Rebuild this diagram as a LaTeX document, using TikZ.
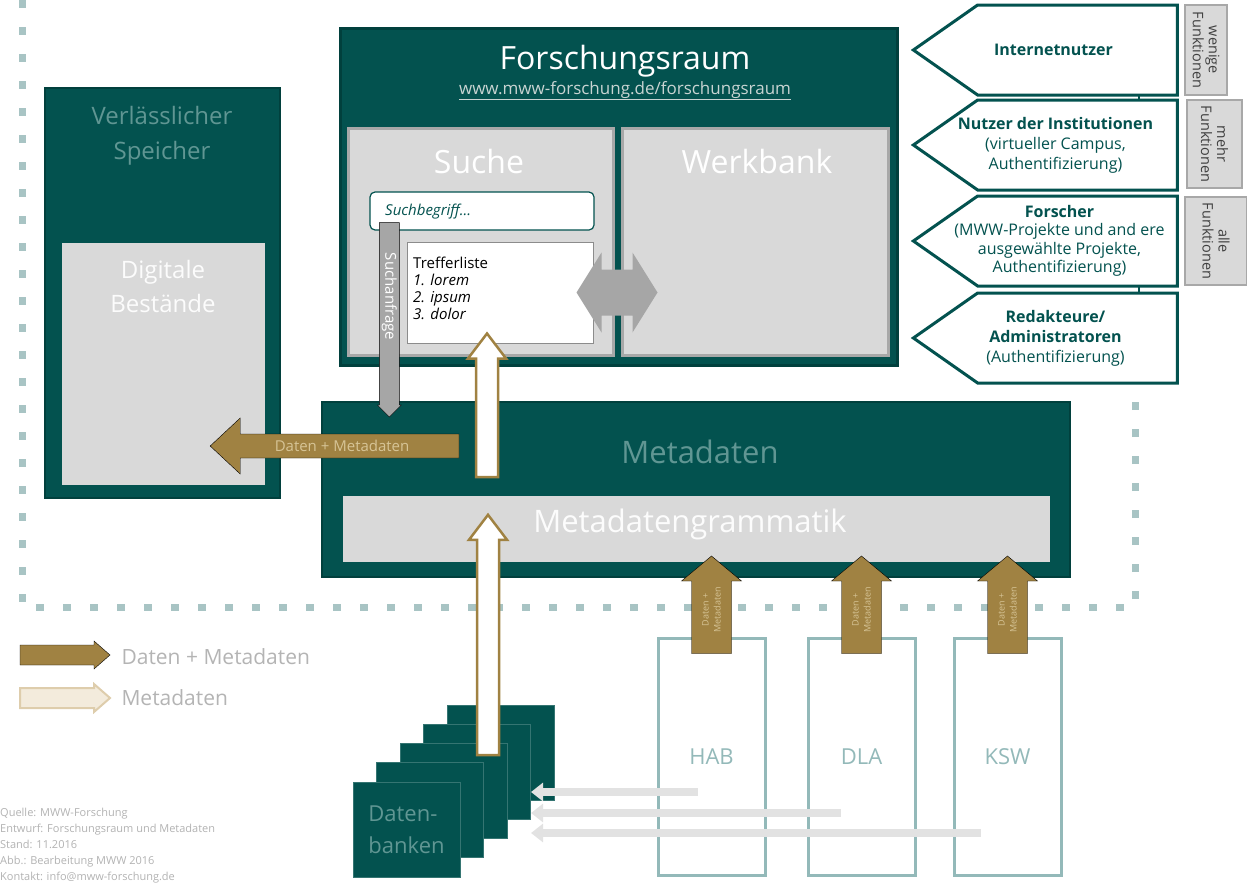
\documentclass[tikz,border=0pt]{standalone}
\usepackage{fontspec}
\setmainfont{Open Sans}
\usetikzlibrary{positioning,calc,arrows.meta,shapes.symbols}

\definecolor{mwwteal}{RGB}{3,82,79}
\definecolor{mwwtealdark}{RGB}{1,64,61}
\definecolor{mwwfaint}{RGB}{96,150,147}
\definecolor{mwwbrown}{RGB}{160,130,66}
\definecolor{mwwsand}{RGB}{243,235,220}
\definecolor{mwwsandline}{RGB}{222,205,172}
\definecolor{mwwsandtext}{RGB}{214,196,150}
\definecolor{panelgray}{RGB}{217,217,217}
\definecolor{panelline}{RGB}{168,168,168}
\definecolor{arrowgray}{RGB}{166,166,166}
\definecolor{archline}{RGB}{147,185,185}
\definecolor{dotline}{RGB}{168,196,196}
\definecolor{paleline}{RGB}{226,226,226}
\definecolor{urlgray}{RGB}{200,212,210}
\definecolor{legendgray}{RGB}{180,180,180}

% block arrows between two points
\tikzset{
  arrshaft/.store in=\arrshaft, arrshaft=10pt,
  arrhead/.store in=\arrhead, arrhead=20pt,
  arrtip/.store in=\arrtip, arrtip=20pt,
  blockarrow/.style={to path={
      ($(\tikztostart)!\arrshaft!90:(\tikztotarget)$)
   -- ($(\tikztotarget)!\arrtip!(\tikztostart)!\arrshaft!90:(\tikztotarget)$)
   -- ($(\tikztotarget)!\arrtip!(\tikztostart)!\arrhead!90:(\tikztotarget)$)
   -- (\tikztotarget)
   -- ($(\tikztotarget)!\arrtip!(\tikztostart)!\arrhead!-90:(\tikztotarget)$)
   -- ($(\tikztotarget)!\arrtip!(\tikztostart)!\arrshaft!-90:(\tikztotarget)$)
   -- ($(\tikztostart)!\arrshaft!-90:(\tikztotarget)$)
   -- cycle}},
}

\begin{document}
\begin{tikzpicture}[x=1pt, y=-1pt,
    tealbox/.style={draw=mwwtealdark, line width=2pt, fill=mwwteal, inner sep=0pt},
    panel/.style={draw=panelline, line width=3pt, fill=panelgray, inner sep=0pt},
    titlefont/.style={font=\fontsize{32}{36}\selectfont},
    faint/.style={text=mwwfaint},
    archive/.style={draw=archline, line width=3pt, fill=white, inner sep=0pt,
      minimum width=107pt, minimum height=237pt, text=archline,
      font=\fontsize{22}{26}\selectfont},
    dbsheet/.style={draw=mwwteal!80!white, line width=1pt, fill=mwwteal, inner sep=0pt,
      minimum width=107pt, minimum height=95pt},
    usersign/.style={signal, signal to=west, signal pointer angle=70, draw=mwwteal,
      line width=3pt, fill=white, minimum width=264pt, minimum height=90pt, inner sep=0pt},
    usertext/.style={align=center, text=mwwteal, font=\fontsize{16}{20}\selectfont},
    tag/.style={draw=panelline, line width=1.5pt, fill=panelgray, rotate=-90,
      inner sep=0pt, align=center, text=black!75, font=\fontsize{14.5}{16}\selectfont},
    brownarrow/.style={fill=mwwbrown, blockarrow},
    hollowarrow/.style={draw=mwwbrown, line width=2.5pt, fill=white, blockarrow},
    grayarrow/.style={fill=arrowgray, blockarrow},
    feed/.style={draw=paleline, line width=8pt, -{Triangle[width=18pt,length=12pt]}},
    dotframe/.style={draw=dotline, line width=7pt, dash pattern=on 8pt off 19pt}
  ]
\useasboundingbox (0,0) rectangle (1247,886);

% outer dotted frame
\coordinate (fa) at (22,0);
\coordinate (fb) at (22,607);
\coordinate (fc) at (1135,607);
\coordinate (fd) at (1135,395);
\draw[dotframe] (fa) -- (fb) -- (fc) -- (fd);

% storage
\node[tealbox, minimum width=235pt, minimum height=410pt] (speicher) at (162.5,293) {};
\node[faint, font=\fontsize{24}{35}\selectfont, align=center] (speichertitle) at (162,136) {Verlässlicher\\Speicher};
\node[fill=panelgray, inner sep=0pt, minimum width=203pt, minimum height=242pt] (best) at (163.5,364) {};
\node[text=white!92!panelgray, font=\fontsize{24}{34}\selectfont, align=center] (besttitle) at (163,286) {Digitale\\Bestände};

% Forschungsraum
\node[tealbox, line width=3pt, minimum width=557pt, minimum height=337pt] (raum) at (618.5,196.5) {};
\node[text=white, titlefont, anchor=base] (raumtitle) at (625,69) {Forschungsraum};
\node[text=urlgray, font=\fontsize{17}{20}\selectfont, anchor=base] (url) at (625,94) {\underline{www.mww-forschung.de/forschungsraum}};
\node[panel, minimum width=265pt, minimum height=227pt] (suche) at (480.5,241.5) {};
\node[panel, minimum width=266pt, minimum height=227pt] (werk) at (755,241.5) {};
\node[text=white, titlefont, anchor=base] (suchetitle) at (479,173) {Suche};
\node[text=white, titlefont, anchor=base] (werktitle) at (757,173) {Werkbank};
\node[draw=mwwteal, line width=1.2pt, fill=white, rounded corners=5pt,
      minimum width=224pt, minimum height=38pt] (sbox) at (482,211) {};
\node[text=mwwteal, anchor=base west, inner sep=0pt, font=\fontsize{15}{17}\itshape] (sboxtext) at (385,215) {Suchbegriff...};
\node[draw=black!45, line width=1pt, fill=white, minimum width=186pt, minimum height=101pt] (treffer) at (500,292.5) {};
\node[anchor=north west, align=left, inner sep=0pt, font=\fontsize{15}{17}\selectfont] (hits) at (413,257)
  {Trefferliste\\\textit{1. lorem}\\\textit{2. ipsum}\\\textit{3. dolor}};

% Metadaten
\node[tealbox, minimum width=748pt, minimum height=175pt] (meta) at (696,489.5) {};
\node[faint, font=\fontsize{31}{34}\selectfont] (metatitle) at (700,452) {Metadaten};
\node[fill=panelgray, inner sep=0pt, minimum width=707pt, minimum height=66pt] (gram) at (696.5,529) {};
\node[text=white!92!panelgray, font=\fontsize{31}{34}\selectfont] (gramtitle) at (690,524) {Metadatengrammatik};

% archives and databases
\node[archive] (hab) at (711.5,756.5) {HAB};
\node[archive] (dla) at (861.5,756.5) {DLA};
\node[archive] (ksw) at (1007.5,756.5) {KSW};
\coordinate (dbfront) at (406.5,829.5);
\foreach \i in {4,3,2,1}
  \node[dbsheet] (db\i) at ($(dbfront)+(23.5*\i,-19.25*\i)$) {};
\node[dbsheet, faint, align=left, font=\fontsize{22}{32}\selectfont] (db) at (dbfront) {Daten-\\banken};

% user groups
\node[usersign] (u1) at (1077.5,50) {};
\node[usersign] (u2) at (1077.5,145) {};
\node[usersign] (u3) at (1077.5,241) {};
\node[usersign] (u4) at (1077.5,338) {};
\node[usertext] (u1text) at ($(u1.center)+(-24,0)$) {\textbf{Internetnutzer}};
\node[usertext] (u2text) at ($(u2.center)+(-22,0)$) {\textbf{Nutzer der Institutionen}\\(virtueller Campus,\\Authentifizierung)};
\node[usertext, font=\fontsize{16}{18.5}\selectfont] (u3text) at ($(u3.center)+(-18,0)$) {\textbf{Forscher}\\(MWW-Projekte und and ere\\ausgewählte Projekte,\\Authentifizierung)};
\node[usertext] (u4text) at ($(u4.center)+(-22,0)$) {\textbf{Redakteure/}\\\textbf{Administratoren}\\(Authentifizierung)};
\draw[mwwteal, line width=2pt] ($(u1.east)+(-40,45)$) -- ($(u2.east)+(-40,-45)$);
\draw[mwwteal, line width=2pt] ($(u3.east)+(-40,44)$) -- ($(u4.east)+(-40,-45)$);
\node[tag, minimum width=90pt, minimum height=42pt] (t1) at (1206,50) {wenige\\Funktionen};
\node[tag, minimum width=88pt, minimum height=55pt] (t2) at (1214.5,144) {mehr\\Funktionen};
\node[tag, minimum width=88pt, minimum height=62pt] (t3) at (1216,241) {alle\\Funktionen};

% search request
\coordinate (qa) at ($(sbox.south west)+(20,-8)$);
\coordinate (qb) at ($(qa |- meta.north)+(0,16)$);
\draw[grayarrow, arrshaft=10pt, arrhead=12pt, arrtip=12pt] (qa) to (qb);
\node[rotate=-90, text=white, font=\fontsize{15}{17}\selectfont] (qtext) at ($(qa)!.38!(qb)$) {Suchanfrage};

% results <-> workbench
\coordinate (dmx) at ($(suche.east)!.5!(werk.west)$);
\coordinate (dm) at (dmx |- treffer.east);
\fill[arrowgray, arrshaft=23pt, arrhead=40pt, arrtip=25pt, blockarrow]
  (dm) to ($(dm)+(-41,0)$) (dm) to ($(dm)+(40,0)$);

% metadata to results
\coordinate (ra) at ($(meta.north west)+(166,76)$);
\coordinate (rb) at ($(treffer.south -| ra)+(0,-10)$);
\draw[hollowarrow, arrshaft=11pt, arrhead=19pt, arrtip=25pt] (ra) to (rb);

% data to storage
\coordinate (sa) at ($(meta.north west)+(138,45)$);
\coordinate (sb) at ($(sa -| best.east)+(-55,0)$);
\draw[brownarrow, arrshaft=12pt, arrhead=28pt, arrtip=30pt] (sa) to (sb);
\node[text=mwwsandtext, font=\fontsize{15}{17}\selectfont] (stext) at ($(sa)!.47!(sb)$) {Daten + Metadaten};

% databases to grammar
\coordinate (ga) at (488,755);
\coordinate (gb) at ($(gram.north -| ga)+(0,19)$);
\draw[hollowarrow, arrshaft=11pt, arrhead=19pt, arrtip=25pt] (ga) to (gb);

% archives to Metadaten
\foreach \a in {hab,dla,ksw}{
  \coordinate (\a-base) at ($(\a.north)+(0,17)$);
  \coordinate (\a-tip) at ($(\a.north |- meta.south)+(0,-22)$);
  \draw[brownarrow, arrshaft=20pt, arrhead=30pt, arrtip=25pt] (\a-base) to (\a-tip);
  \node[rotate=90, text=mwwsandtext, align=center, font=\fontsize{9}{12}\selectfont]
    at ($(\a-base)!.45!(\a-tip)$) {Daten +\\Metadaten};
}

% archives to databases
\coordinate (h1) at ($(hab.west)+(41,35.5)$);
\coordinate (h2) at ($(dla.west)+(34,56.5)$);
\coordinate (h3) at ($(ksw.west)+(28,76.5)$);
\draw[feed] (h1) -- (h1 -| db3.east);
\draw[feed] (h2) -- (h2 -| db3.east);
\draw[feed] (h3) -- (h3 -| db3.east);

% legend
\coordinate (la1) at (20,655);
\coordinate (lb1) at (110,655);
\coordinate (la2) at (20,698);
\coordinate (lb2) at (110,698);
\draw[brownarrow, arrshaft=10pt, arrhead=14pt, arrtip=16pt] (la1) to (lb1);
\draw[draw=mwwsandline, line width=2pt, fill=mwwsand, blockarrow, arrshaft=10pt, arrhead=14pt, arrtip=16pt] (la2) to (lb2);
\node[anchor=west, text=legendgray, font=\fontsize{21}{23}\selectfont] (l1) at (118,657) {Daten + Metadaten};
\node[anchor=west, text=legendgray, font=\fontsize{21}{23}\selectfont] (l2) at (118,698) {Metadaten};

% source notes
\node[anchor=north west, align=left, inner sep=0pt, text=black!30, font=\fontsize{11}{16}\selectfont] (notes) at (0,808)
  {Quelle: MWW-Forschung\\Entwurf: Forschungsraum und Metadaten\\Stand: 11.2016\\Abb.: Bearbeitung MWW 2016\\Kontakt: info@mww-forschung.de};
\end{tikzpicture}
\end{document}
